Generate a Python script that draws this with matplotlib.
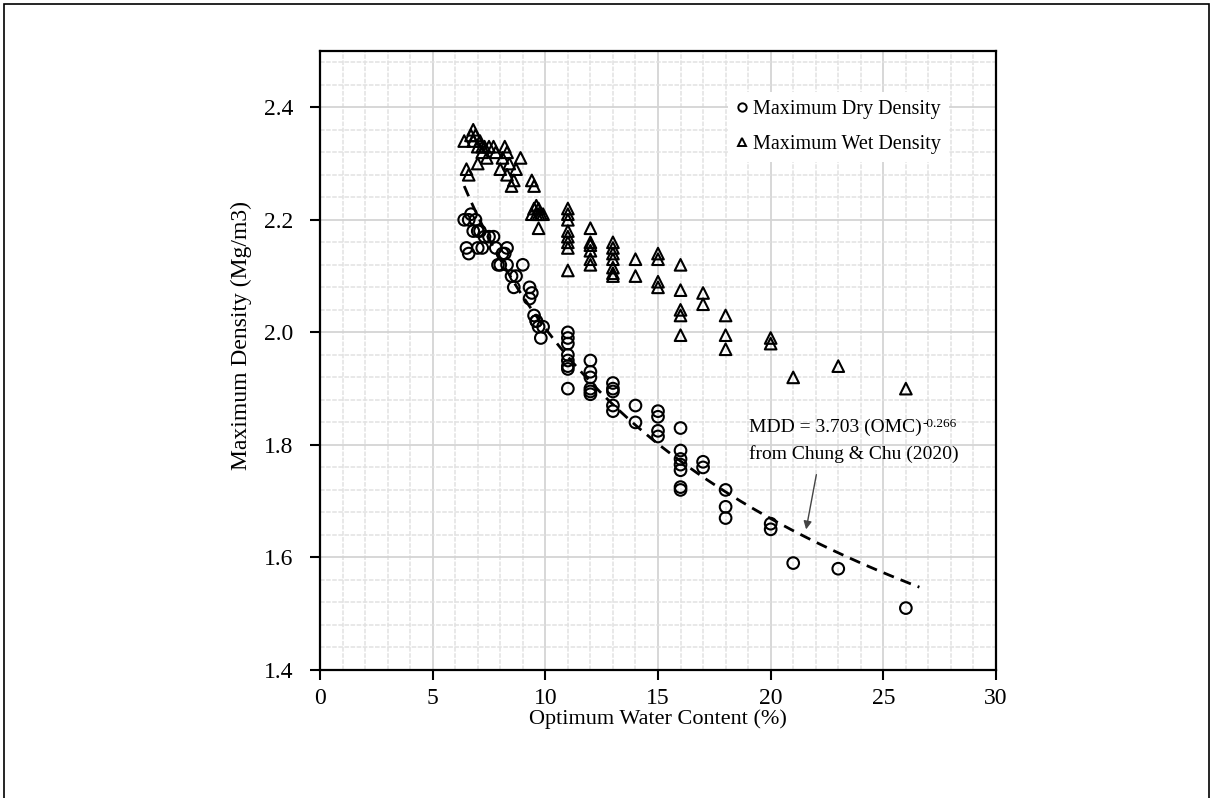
import numpy as np
import matplotlib
matplotlib.use("Agg")
import matplotlib.pyplot as plt
from matplotlib.ticker import MultipleLocator
from matplotlib.lines import Line2D
from matplotlib.patches import Rectangle

plt.rcParams['font.family'] = ['Liberation Serif', 'DejaVu Serif']

# Maximum Dry Density (circles)
dry_omc = [6.4, 6.6, 6.7, 6.5, 6.6, 6.8, 7.0, 7.1, 7.3, 7.5, 7.7, 7.2, 7.0, 6.9,
           7.8, 8.0, 8.2, 8.3, 7.9, 8.1, 8.3, 8.5, 8.6, 8.7, 9.0,
           9.3, 9.4, 9.3, 9.5, 9.6, 9.7, 9.8, 9.9, 9.6,
           11, 11, 11, 11, 11, 11, 11, 11,
           12, 12, 12, 12, 12, 12,
           13, 13, 13, 13, 13,
           14, 14,
           15, 15, 15, 15,
           16, 16, 16, 16, 16, 16, 16,
           17, 17,
           18, 18, 18,
           20, 20,
           21, 23, 26]
dry_mdd = [2.20, 2.20, 2.21, 2.15, 2.14, 2.18, 2.15, 2.18, 2.17, 2.17, 2.17, 2.15, 2.18, 2.20,
           2.15, 2.12, 2.14, 2.15, 2.12, 2.14, 2.12, 2.10, 2.08, 2.10, 2.12,
           2.08, 2.07, 2.06, 2.03, 2.02, 2.01, 1.99, 2.01, 2.02,
           2.00, 1.99, 1.98, 1.96, 1.95, 1.94, 1.935, 1.90,
           1.95, 1.93, 1.92, 1.90, 1.895, 1.89,
           1.91, 1.90, 1.895, 1.87, 1.86,
           1.87, 1.84,
           1.86, 1.85, 1.825, 1.815,
           1.83, 1.79, 1.775, 1.765, 1.755, 1.725, 1.72,
           1.77, 1.76,
           1.72, 1.69, 1.67,
           1.66, 1.65,
           1.59, 1.58, 1.51]

# Maximum Wet Density (triangles)
wet_omc = [6.4, 6.5, 6.6, 6.7, 6.8, 6.8, 6.9, 7.0, 7.1, 7.2, 7.0, 7.2, 7.3, 7.4,
           7.5, 7.7, 7.8, 8.0, 8.2, 8.3, 8.4, 8.3, 8.5, 8.7, 8.6, 8.9, 8.1,
           9.4, 9.5, 9.5, 9.6, 9.6, 9.7, 9.7, 9.8, 9.9, 9.4, 9.7,
           11, 11, 11, 11, 11, 11, 11, 11,
           12, 12, 12, 12, 12, 12,
           13, 13, 13, 13, 13, 13, 13,
           14, 14,
           15, 15, 15, 15,
           16, 16, 16, 16, 16,
           17, 17,
           18, 18, 18,
           20, 20,
           21, 23, 26]
wet_mdd = [2.34, 2.29, 2.28, 2.35, 2.36, 2.34, 2.35, 2.33, 2.34, 2.33, 2.30, 2.32, 2.33, 2.31,
           2.33, 2.33, 2.32, 2.29, 2.33, 2.32, 2.30, 2.28, 2.26, 2.29, 2.27, 2.31, 2.31,
           2.27, 2.26, 2.22, 2.21, 2.225, 2.21, 2.22, 2.21, 2.21, 2.21, 2.185,
           2.22, 2.21, 2.20, 2.18, 2.17, 2.16, 2.15, 2.11,
           2.185, 2.16, 2.155, 2.145, 2.13, 2.12,
           2.16, 2.15, 2.14, 2.13, 2.115, 2.105, 2.10,
           2.13, 2.10,
           2.14, 2.13, 2.09, 2.08,
           2.12, 2.075, 2.04, 2.03, 1.995,
           2.07, 2.05,
           2.03, 1.995, 1.97,
           1.99, 1.98,
           1.92, 1.94, 1.90]

# Chung & Chu (2020) fit: MDD = a * OMC^b
fit_a = 3.703
fit_b = -0.266
fit_range = [6.4, 26.6]

x_ticks = [0, 5, 10, 15, 20, 25, 30]
y_ticks = [1.4, 1.6, 1.8, 2.0, 2.2, 2.4]

fig = plt.figure(figsize=(12.14, 7.98), dpi=100)
ax = fig.add_axes([320/1214, 1-670/798, (996-320)/1214, (670-51)/798])

ax.set_xlim(0, 30)
ax.set_ylim(1.4, 2.5)
ax.set_xticks(x_ticks)
ax.set_yticks(y_ticks)
ax.set_yticklabels([f"{v:.1f}" for v in y_ticks])
ax.xaxis.set_minor_locator(MultipleLocator(1))
ax.yaxis.set_minor_locator(MultipleLocator(0.04))
ax.grid(which='major', color='#d4d4d4', lw=1.3, ls='-', zorder=0)
ax.grid(which='minor', color='#e2e2e2', lw=1.1, ls=(0, (3, 1)), zorder=0)
ax.set_axisbelow(True)
ax.tick_params(which='major', direction='out', length=7, width=1.5, labelsize=17, colors='black')
ax.tick_params(axis='y', pad=12)
ax.tick_params(axis='x', pad=6)
ax.tick_params(which='minor', length=0)
for s in ax.spines.values():
    s.set_linewidth(1.6)
    s.set_color('black')

ax.scatter(dry_omc, dry_mdd, s=70, marker='o', facecolors='none', edgecolors='black',
           linewidths=1.5, zorder=3)
ax.scatter(wet_omc, wet_mdd, s=70, marker='^', facecolors='none', edgecolors='black',
           linewidths=1.5, zorder=3)

xf = np.linspace(fit_range[0], fit_range[1], 200)
ax.plot(xf, fit_a * xf ** fit_b, color='black', lw=2.0, dashes=(4, 2.6), zorder=4)

ax.set_xlabel("Optimum Water Content (%)", fontsize=16)
ax.set_ylabel("Maximum Density (Mg/m3)", fontsize=17)
ax.xaxis.set_label_coords(0.5, -0.064)
ax.yaxis.set_label_coords(-0.10, 0.54)

handles = [Line2D([], [], ls='none', marker='o', mfc='none', mec='black', ms=6, mew=1.4),
           Line2D([], [], ls='none', marker='^', mfc='none', mec='black', ms=6, mew=1.4)]
leg = ax.legend(handles, ["Maximum Dry Density", "Maximum Wet Density"], loc='upper right',
                bbox_to_anchor=(0.945, 0.95), fontsize=14.5, frameon=True, handlelength=0.6,
                handletextpad=0.25, labelspacing=0.8, borderpad=0.4)
leg.get_frame().set_edgecolor('none')
leg.get_frame().set_facecolor('white')
leg.get_frame().set_alpha(1)

t1 = ax.text(19.05, 1.846, "MDD = 3.703 (OMC)", fontsize=14, va='top', ha='left')
ax.text(19.05, 1.799, "from Chung & Chu (2020)", fontsize=14, va='top', ha='left')
ax.annotate("-0.266", xy=(1, 1), xycoords=t1, xytext=(0.5, 1), textcoords='offset points',
            fontsize=9.5, va='top', ha='left')
ax.annotate("", xy=(21.55, 1.645), xytext=(22.05, 1.752),
            arrowprops=dict(arrowstyle='-|>', color='#444444', lw=1.0, mutation_scale=12))

fig.patches.append(Rectangle((4/1214, -0.01), 1205/1214, 1.0 - 4/798 + 0.01,
                             transform=fig.transFigure, fill=False, edgecolor='black', lw=1.2))

fig.savefig("out.png", dpi=100)
